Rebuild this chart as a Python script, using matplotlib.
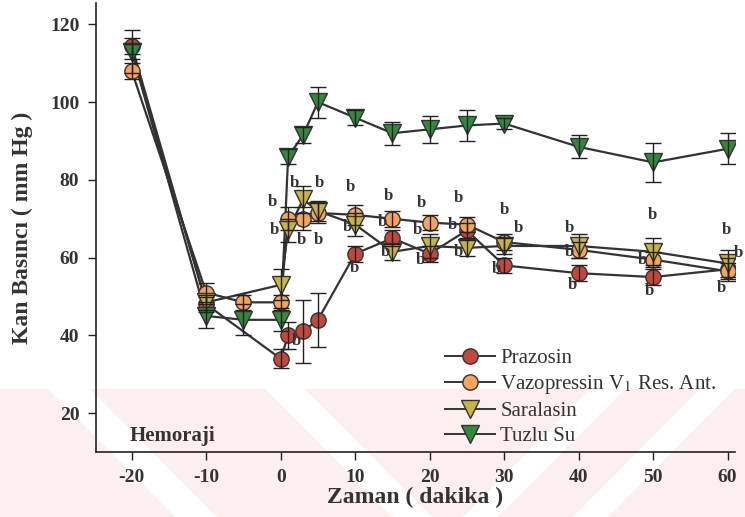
"""
Kan basinci - zaman egrisi (hemoraji sonrasi), dort grup.
"""

import matplotlib
matplotlib.use('Agg')
import matplotlib.pyplot as plt
from matplotlib.lines import Line2D
from matplotlib.patches import Polygon, Rectangle
import numpy as np

# --- data ---
t_all = [-20, -10, -5, 0, 1, 3, 5, 10, 15, 20, 25, 30, 40, 50, 60]
t_skip5 = [-20, -10, 0, 1, 3, 5, 10, 15, 20, 25, 30, 40, 50, 60]

prazosin = [114.5, 48, 34, 40, 41, 44, 61, 65, 61, 67, 58, 56, 55, 57]
prazosin_err = [2, 2, 2.5, 3.5, 8, 7, 2, 2, 2, 2, 2, 2, 2, 3]

vazopressin = [108, 51, 48.5, 48.5, 70, 70, 71.5, 71, 70, 69, 68.5, 64, 62, 59.5, 56.5]
vazopressin_err = [2, 2.5, 2, 2, 3, 3, 2.5, 2.5, 2, 2, 2, 2, 2, 2, 2]

saralasin = [113, 48.5, 53, 67, 75, 72, 68.5, 61.5, 63, 62.5, 63, 63, 61.5, 58.5]
saralasin_err = [2, 2, 4, 3, 3.5, 2.5, 3, 2, 3, 2, 2, 3, 3.5, 3.5]

tuzlu = [113, 45, 44, 44, 86, 91.5, 100, 96, 92, 93, 94, 94.5, 88.5, 84.5, 88]
tuzlu_err = [5.5, 3, 4, 3, 2, 2, 4, 2, 3, 3.5, 4, 1.5, 3, 5, 4]

# "b" significance marks (x, y in data units)
b_x = [1.9, 5.2, -1.1, -0.8, 2.8, 5.0, 9.4, 8.9, 9.9, 2.1,
       14.5, 13.6, 14.0, 18.9, 18.4, 18.7, 23.9, 23.1, 23.8,
       30.1, 31.9, 28.9, 38.8, 38.8, 39.2, 49.9, 48.6, 49.5,
       59.9, 61.4, 59.2]
b_y = [79.2, 79.2, 74.4, 67.2, 64.6, 64.6, 78.2, 68.0, 57.4, 38.5,
       75.9, 69.2, 61.5, 74.1, 67.2, 59.5, 75.4, 68.5, 61.5,
       72.3, 67.7, 57.0, 67.7, 61.5, 53.0, 71.0, 59.5, 51.3,
       67.0, 61.3, 52.3]

groups = [
    ('Prazosin', t_skip5, prazosin, prazosin_err, 'o', '#c4473a', 11),
    ('Vazopressin V$_1$ Res. Ant.', t_all, vazopressin, vazopressin_err, 'o', '#f7a35c', 11),
    ('Saralasin', t_skip5, saralasin, saralasin_err, 'v', '#c9b343', 12.5),
    ('Tuzlu Su', t_all, tuzlu, tuzlu_err, 'v', '#2f8a3c', 12.5),
]

plt.rcParams['font.family'] = 'Liberation Serif'
plt.rcParams['mathtext.fontset'] = 'stix'
plt.rcParams['axes.unicode_minus'] = False

W, H = 745, 517
fig = plt.figure(figsize=(W / 100, H / 100), dpi=100)

# faint watermark of the scanned page (pink band with white diagonal stripes)
wm = '#fdeef0'
fig.patches.append(Rectangle((0, 0), 1, 1 - 389 / H, transform=fig.transFigure,
                             facecolor=wm, edgecolor='none', zorder=-2))
stripes = [((48, 90), (175, 217)), ((265, 305), (392, 432)),
           ((590, 625), (463, 498)), ((700, 735), (573, 608))]
for (t0, t1), (b0, b1) in stripes:
    fig.patches.append(Polygon([[t0 / W, 1 - 389 / H], [t1 / W, 1 - 389 / H],
                                [b1 / W, 0], [b0 / W, 0]],
                               closed=True, transform=fig.transFigure,
                               facecolor='white', edgecolor='none', zorder=-1))

ax = fig.add_axes([96 / W, 1 - 452 / H, 639 / W, 449 / H])
ax.patch.set_alpha(0)

for name, t, y, e, m, c, ms in groups:
    ax.plot(t, y, '-', color='#333333', linewidth=1.6, zorder=2)
    ax.errorbar(t, y, yerr=e, fmt='none', ecolor='#222222', elinewidth=1.0,
                capsize=6, capthick=1.0, zorder=4)
    ax.plot(t, y, linestyle='none', marker=m, markersize=ms,
            markerfacecolor=c, markeredgecolor='#333333', markeredgewidth=1.0,
            zorder=3)

for bx, by in zip(b_x, b_y):
    ax.text(bx, by, 'b', fontsize=12, fontweight='bold', color='#333333',
            ha='center', va='center', zorder=5)

ax.text(-20.3, 14.0, 'Hemoraji', fontsize=15, fontweight='bold',
        color='#333333', ha='left', va='center')

ax.set_xlim(-24.8, 61)
ax.set_ylim(10, 125.5)
ax.set_xticks(np.arange(-20, 61, 10))
ax.set_yticks(np.arange(20, 121, 20))
ax.spines['top'].set_visible(False)
ax.spines['right'].set_visible(False)
for s in ['left', 'bottom']:
    ax.spines[s].set_color('#222222')
    ax.spines[s].set_linewidth(1.2)
ax.tick_params(direction='out', length=6, width=1.0, colors='#222222',
               labelsize=14, pad=6)
for lab in ax.get_xticklabels() + ax.get_yticklabels():
    lab.set_fontweight('bold')
    lab.set_color('#333333')

ax.set_xlabel('Zaman ( dakika )', fontsize=17, fontweight='bold',
              color='#333333', labelpad=1)
ax.set_ylabel('Kan Basıncı ( mm Hg )', fontsize=17, fontweight='bold',
              color='#333333', labelpad=12)

handles = [Line2D([0], [0], color='#333333', linewidth=1.4, marker=m,
                  markersize=ms, markerfacecolor=c, markeredgecolor='#333333')
           for _, _, _, _, m, c, ms in groups]
labels = [g[0] for g in groups]
ax.legend(handles, labels, loc='lower left', bbox_to_anchor=(0.517, -0.028),
          frameon=False, fontsize=15, handlelength=2.4, labelspacing=0.25,
          handletextpad=0.25, labelcolor='#333333')

plt.savefig('out.png', dpi=100)
plt.close()
